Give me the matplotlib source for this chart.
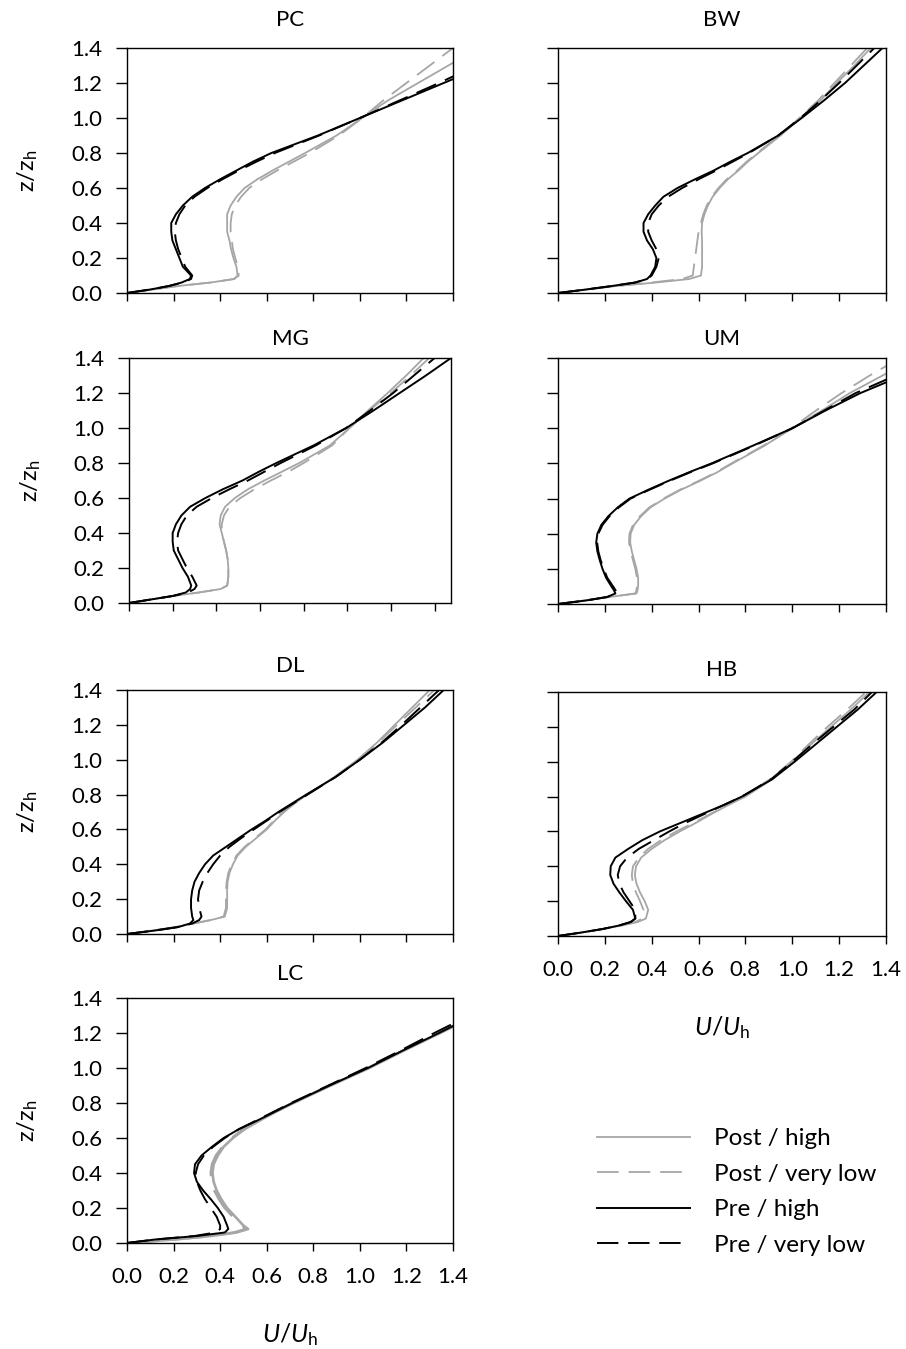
import matplotlib
matplotlib.use('Agg')
import matplotlib.pyplot as plt
from matplotlib.lines import Line2D

# 0. Data: wind speed profiles U/Uh read at fixed heights z/zh
z = [0, 0.02, 0.04, 0.06, 0.08, 0.10, 0.15, 0.20, 0.25, 0.30, 0.35, 0.40, 0.45,
     0.50, 0.55, 0.60, 0.65, 0.70, 0.75, 0.80, 0.90, 1.00, 1.10, 1.20, 1.30, 1.40]

pc_post_high = [0, 0.11, 0.22, 0.36, 0.46, 0.475, 0.47, 0.457, 0.447, 0.44, 0.43, 0.43, 0.43,
                0.445, 0.47, 0.505, 0.56, 0.625, 0.695, 0.765, 0.90, 1.01, 1.12, 1.25, 1.38, 1.51]
pc_post_vlow = [0, 0.11, 0.22, 0.36, 0.46, 0.48, 0.475, 0.465, 0.455, 0.45, 0.445, 0.445, 0.45,
                0.465, 0.49, 0.525, 0.58, 0.645, 0.715, 0.785, 0.91, 1.01, 1.10, 1.20, 1.30, 1.40]
pc_pre_high = [0, 0.10, 0.18, 0.235, 0.27, 0.275, 0.24, 0.225, 0.21, 0.195, 0.19, 0.19, 0.21,
               0.24, 0.28, 0.335, 0.40, 0.47, 0.54, 0.62, 0.82, 1.00, 1.18, 1.36, 1.54, 1.72]
pc_pre_vlow = [0, 0.10, 0.18, 0.24, 0.275, 0.28, 0.25, 0.235, 0.22, 0.21, 0.205, 0.21, 0.225,
               0.25, 0.29, 0.345, 0.41, 0.48, 0.555, 0.635, 0.825, 1.00, 1.17, 1.34, 1.50, 1.66]

bw_post_high = [0, 0.12, 0.25, 0.42, 0.56, 0.61, 0.615, 0.615, 0.615, 0.615, 0.613, 0.615, 0.625,
                0.64, 0.66, 0.69, 0.725, 0.77, 0.81, 0.855, 0.95, 1.035, 1.12, 1.19, 1.265, 1.335]
bw_post_vlow = [0, 0.12, 0.25, 0.40, 0.53, 0.575, 0.58, 0.585, 0.59, 0.595, 0.60, 0.61, 0.62,
                0.635, 0.655, 0.685, 0.72, 0.765, 0.805, 0.85, 0.945, 1.03, 1.11, 1.18, 1.25, 1.32]
bw_pre_high = [0, 0.12, 0.23, 0.33, 0.38, 0.395, 0.415, 0.42, 0.405, 0.38, 0.365, 0.365, 0.385,
               0.415, 0.45, 0.51, 0.585, 0.665, 0.735, 0.81, 0.94, 1.04, 1.135, 1.225, 1.305, 1.385]
bw_pre_vlow = [0, 0.12, 0.23, 0.33, 0.38, 0.40, 0.42, 0.43, 0.42, 0.40, 0.385, 0.385, 0.40,
               0.43, 0.47, 0.53, 0.60, 0.675, 0.745, 0.815, 0.94, 1.035, 1.12, 1.20, 1.275, 1.35]

mg_post_high = [0, 0.10, 0.20, 0.32, 0.42, 0.45, 0.455, 0.455, 0.452, 0.445, 0.435, 0.425, 0.415,
                0.42, 0.44, 0.485, 0.545, 0.62, 0.70, 0.78, 0.92, 1.01, 1.095, 1.185, 1.27, 1.35]
mg_post_vlow = [0, 0.10, 0.20, 0.32, 0.42, 0.45, 0.455, 0.455, 0.452, 0.445, 0.435, 0.425, 0.425,
                0.435, 0.46, 0.51, 0.575, 0.65, 0.73, 0.80, 0.93, 1.01, 1.10, 1.20, 1.29, 1.375]
mg_pre_high = [0, 0.10, 0.20, 0.26, 0.28, 0.285, 0.27, 0.245, 0.225, 0.205, 0.20, 0.20, 0.215,
               0.24, 0.28, 0.35, 0.43, 0.52, 0.595, 0.675, 0.845, 0.995, 1.12, 1.24, 1.36, 1.475]
mg_pre_vlow = [0, 0.10, 0.20, 0.27, 0.30, 0.31, 0.29, 0.265, 0.245, 0.225, 0.22, 0.225, 0.24,
               0.265, 0.31, 0.38, 0.46, 0.545, 0.62, 0.695, 0.855, 0.995, 1.105, 1.21, 1.305, 1.40]

um_post_high = [0, 0.11, 0.22, 0.335, 0.34, 0.342, 0.342, 0.335, 0.325, 0.315, 0.308, 0.31, 0.325,
                0.355, 0.395, 0.455, 0.525, 0.605, 0.68, 0.745, 0.88, 1.00, 1.125, 1.245, 1.385, 1.52]
um_post_vlow = [0, 0.11, 0.22, 0.33, 0.335, 0.337, 0.337, 0.33, 0.32, 0.31, 0.303, 0.305, 0.32,
                0.35, 0.39, 0.45, 0.52, 0.60, 0.675, 0.74, 0.875, 0.995, 1.10, 1.21, 1.33, 1.46]
um_pre_high = [0, 0.12, 0.21, 0.245, 0.238, 0.228, 0.205, 0.19, 0.178, 0.168, 0.163, 0.168, 0.185,
               0.215, 0.255, 0.305, 0.385, 0.47, 0.56, 0.655, 0.83, 1.00, 1.14, 1.29, 1.47, 1.60]
um_pre_vlow = [0, 0.12, 0.21, 0.25, 0.245, 0.235, 0.21, 0.195, 0.182, 0.172, 0.167, 0.172, 0.19,
               0.22, 0.26, 0.31, 0.39, 0.475, 0.565, 0.66, 0.835, 1.00, 1.135, 1.27, 1.44, 1.57]

dl_post_high = [0, 0.11, 0.21, 0.285, 0.36, 0.42, 0.43, 0.43, 0.43, 0.432, 0.44, 0.455, 0.475,
                0.51, 0.555, 0.60, 0.635, 0.675, 0.72, 0.775, 0.89, 0.99, 1.075, 1.15, 1.225, 1.30]
dl_post_vlow = [0, 0.11, 0.21, 0.285, 0.36, 0.415, 0.425, 0.425, 0.425, 0.428, 0.435, 0.45, 0.47,
                0.505, 0.55, 0.595, 0.63, 0.67, 0.72, 0.775, 0.89, 0.995, 1.08, 1.16, 1.24, 1.32]
dl_pre_high = [0, 0.12, 0.22, 0.27, 0.285, 0.28, 0.275, 0.275, 0.28, 0.29, 0.31, 0.335, 0.37,
               0.425, 0.48, 0.535, 0.595, 0.65, 0.71, 0.77, 0.895, 1.00, 1.10, 1.19, 1.28, 1.36]
dl_pre_vlow = [0, 0.12, 0.22, 0.28, 0.31, 0.32, 0.31, 0.305, 0.31, 0.325, 0.345, 0.37, 0.40,
               0.44, 0.49, 0.545, 0.60, 0.655, 0.715, 0.775, 0.895, 1.00, 1.095, 1.18, 1.26, 1.34]

hb_post_high = [0, 0.10, 0.19, 0.27, 0.34, 0.375, 0.385, 0.37, 0.35, 0.335, 0.328, 0.333, 0.355,
                0.40, 0.455, 0.52, 0.59, 0.655, 0.725, 0.80, 0.915, 1.00, 1.08, 1.165, 1.25, 1.33]
hb_post_vlow = [0, 0.10, 0.19, 0.27, 0.33, 0.36, 0.365, 0.35, 0.333, 0.32, 0.315, 0.32, 0.345,
                0.385, 0.44, 0.505, 0.58, 0.65, 0.72, 0.79, 0.905, 0.995, 1.07, 1.15, 1.235, 1.315]
hb_pre_high = [0, 0.10, 0.19, 0.26, 0.31, 0.33, 0.32, 0.29, 0.262, 0.237, 0.223, 0.225, 0.245,
               0.30, 0.36, 0.435, 0.525, 0.615, 0.705, 0.785, 0.915, 1.01, 1.10, 1.19, 1.28, 1.36]
hb_pre_vlow = [0, 0.10, 0.19, 0.26, 0.31, 0.33, 0.33, 0.305, 0.28, 0.262, 0.255, 0.265, 0.295,
               0.345, 0.41, 0.475, 0.545, 0.625, 0.705, 0.785, 0.91, 1.00, 1.085, 1.175, 1.265, 1.34]

lc_post_high = [0, 0.20, 0.36, 0.47, 0.52, 0.50, 0.465, 0.43, 0.405, 0.385, 0.372, 0.367, 0.372,
                0.39, 0.415, 0.455, 0.505, 0.57, 0.64, 0.715, 0.875, 1.04, 1.19, 1.345, 1.50, 1.65]
lc_post_vlow = [0, 0.20, 0.36, 0.46, 0.51, 0.495, 0.455, 0.42, 0.395, 0.375, 0.363, 0.36, 0.365,
                0.382, 0.41, 0.45, 0.50, 0.565, 0.635, 0.71, 0.87, 1.035, 1.185, 1.34, 1.49, 1.64]
lc_pre_high = [0, 0.12, 0.30, 0.42, 0.435, 0.43, 0.415, 0.39, 0.36, 0.327, 0.30, 0.288, 0.292,
               0.32, 0.365, 0.415, 0.48, 0.56, 0.635, 0.71, 0.87, 1.035, 1.185, 1.34, 1.49, 1.64]
lc_pre_vlow = [0, 0.12, 0.29, 0.38, 0.40, 0.40, 0.385, 0.36, 0.335, 0.315, 0.30, 0.295, 0.305,
               0.33, 0.37, 0.42, 0.48, 0.555, 0.63, 0.705, 0.865, 1.025, 1.175, 1.32, 1.47, 1.62]

sites = ['PC', 'BW', 'MG', 'UM', 'DL', 'HB', 'LC']
profiles = {
    'PC': [pc_post_high, pc_post_vlow, pc_pre_high, pc_pre_vlow],
    'BW': [bw_post_high, bw_post_vlow, bw_pre_high, bw_pre_vlow],
    'MG': [mg_post_high, mg_post_vlow, mg_pre_high, mg_pre_vlow],
    'UM': [um_post_high, um_post_vlow, um_pre_high, um_pre_vlow],
    'DL': [dl_post_high, dl_post_vlow, dl_pre_high, dl_pre_vlow],
    'HB': [hb_post_high, hb_post_vlow, hb_pre_high, hb_pre_vlow],
    'LC': [lc_post_high, lc_post_vlow, lc_pre_high, lc_pre_vlow],
}
labels = ['Post / high', 'Post / very low', 'Pre / high', 'Pre / very low']
ticks = [0.0, 0.2, 0.4, 0.6, 0.8, 1.0, 1.2, 1.4]

# 1. Style
plt.rcParams.update({
    'font.family': ['Lato', 'DejaVu Sans'],
    'font.size': 16,
    'mathtext.fontset': 'custom',
    'mathtext.rm': 'Lato',
    'mathtext.it': 'Lato:italic',
    'axes.linewidth': 1.0,
    'xtick.direction': 'out',
    'ytick.direction': 'out',
    'xtick.major.size': 6,
    'ytick.major.size': 8,
    'xtick.major.width': 1.0,
    'ytick.major.width': 1.0,
    'xtick.major.pad': 11,
    'ytick.major.pad': 10,
    'xtick.labelsize': 16,
    'ytick.labelsize': 16,
})
C_POST = '#a6a6a6'
C_PRE = 'black'
styles = [
    dict(color=C_POST, lw=1.3, ls='-'),
    dict(color=C_POST, lw=1.3, dashes=(12, 5.5)),
    dict(color=C_PRE, lw=1.4, ls='-'),
    dict(color=C_PRE, lw=1.4, dashes=(11, 5)),
]

W, H = 906, 1349
fig = plt.figure(figsize=(W / 100, H / 100), dpi=100)

# panel boxes in pixels: left, top, right, bottom
boxes = {
    'PC': (127, 48, 453, 293), 'BW': (558, 48, 886, 293),
    'MG': (129, 358, 451, 603), 'UM': (558, 358, 886, 604),
    'DL': (127, 690, 453, 934), 'HB': (558, 692, 886, 936),
    'LC': (127, 998, 453, 1243),
}
xmax = {'MG': 1.475}
title_pad = {'PC': 16, 'BW': 16, 'MG': 9.5, 'UM': 9.5, 'DL': 13, 'HB': 11.5, 'LC': 13}
left_col = ['PC', 'MG', 'DL', 'LC']
bottom_row = ['HB', 'LC']

# 2. Plot
for site in sites:
    l, t, r, b = boxes[site]
    ax = fig.add_axes([l / W, 1 - b / H, (r - l) / W, (b - t) / H])
    for i, (prof, st) in enumerate(zip(profiles[site], styles)):
        st = dict(st)
        if site == 'LC' and i < 2:
            st['lw'] = 1.9  # LC post-fire lines are drawn thicker
        ax.plot(prof, z, **st)
    ax.set_xlim(0, xmax.get(site, 1.4))
    ax.set_ylim(0, 1.4)
    ax.set_xticks(ticks)
    ax.set_yticks(ticks)
    ax.set_title(site, fontsize=16, pad=title_pad[site])
    if site in left_col:
        ax.set_yticklabels([f'{v:.1f}' for v in ticks])
        ax.set_ylabel(r'$\mathrm{z/z}_\mathrm{h}$', fontsize=17)
        ax.yaxis.set_label_coords(-0.267, 0.5)
    else:
        ax.set_yticklabels([])
    if site in bottom_row:
        ax.set_xticklabels([f'{v:.1f}' for v in ticks])
        ax.set_xlabel(r'$U/U_\mathrm{h}$', fontsize=18)
        ax.xaxis.set_label_coords(0.5, -0.32)
    else:
        ax.set_xticklabels([])

# legend
handles = [Line2D([], [], **st) for st in styles]
fig.legend(handles, labels, loc='upper left', bbox_to_anchor=(597 / W, 1 - 1128 / H),
           frameon=False, fontsize=17.5, handlelength=3.83, handletextpad=1.0,
           labelspacing=0.6, borderpad=0, borderaxespad=0)

fig.savefig('out.png', dpi=100)
